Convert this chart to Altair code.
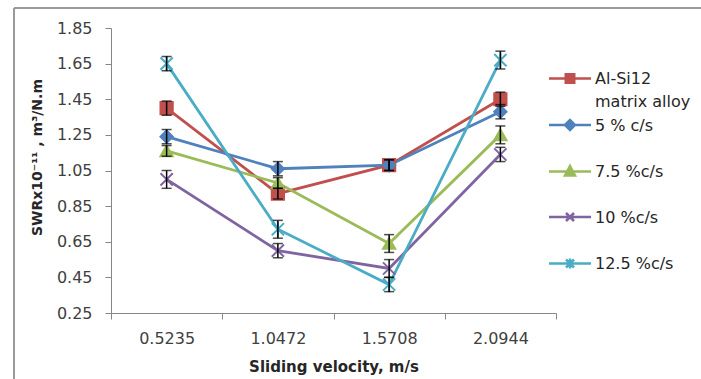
import altair as alt
import pandas as pd

# ---- data ----
velocity = ["0.5235", "1.0472", "1.5708", "2.0944"]
series = ["Al-Si12 matrix alloy", "5 % c/s", "7.5 %c/s", "10 %c/s", "12.5 %c/s"]
alsi12 = [1.40, 0.92, 1.08, 1.45]
cs5 = [1.24, 1.06, 1.08, 1.38]
cs75 = [1.16, 0.98, 0.64, 1.25]
cs10 = [1.00, 0.60, 0.50, 1.14]
cs125 = [1.65, 0.72, 0.41, 1.67]
err_alsi12 = [0.04, 0.03, 0.03, 0.04]
err_cs5 = [0.04, 0.04, 0.03, 0.04]
err_cs75 = [0.03, 0.03, 0.05, 0.05]
err_cs10 = [0.05, 0.04, 0.05, 0.04]
err_cs125 = [0.04, 0.05, 0.04, 0.05]
y_ticks = [0.25, 0.45, 0.65, 0.85, 1.05, 1.25, 1.45, 1.65, 1.85]

colors = ["#C0504D", "#4F81BD", "#9BBB59", "#8064A2", "#4BACC6"]
X_PATH = "M-1,-1L1,1M1,-1L-1,1"
AST_PATH = "M-1,-1L1,1M1,-1L-1,1M0,-1.25L0,1.25"
shapes = ["square", "diamond", "triangle-up", X_PATH, AST_PATH]
# legend symbols: line segment + marker, raised so they sit on the text's first line
legend_shapes = [
    "M-4.2,-1.1L4.2,-1.1M-0.85,-1.95L0.85,-1.95L0.85,-0.25L-0.85,-0.25Z",
    "M-4.2,-1.1L4.2,-1.1M-1,-1.1L0,-2.1L1,-1.1L0,-0.1Z",
    "M-4.2,-1.1L4.2,-1.1M0,-2.2L1,-0.3L-1,-0.3Z",
    "M-4.2,-1.1L4.2,-1.1M-0.8,-1.9L0.8,-0.3M0.8,-1.9L-0.8,-0.3",
    "M-4.2,-1.1L4.2,-1.1M-0.8,-1.9L0.8,-0.3M0.8,-1.9L-0.8,-0.3M0,-2.1L0,-0.1",
]

vals = [alsi12, cs5, cs75, cs10, cs125]
errs = [err_alsi12, err_cs5, err_cs75, err_cs10, err_cs125]
rows = []
for s, v, e in zip(series, vals, errs):
    for x, yv, ev in zip(velocity, v, e):
        rows.append({"series": s, "velocity": x, "value": yv,
                     "lo": yv - ev, "hi": yv + ev})
df = pd.DataFrame(rows)

FONT = "DejaVu Sans"

legend = alt.Legend(
    title=None,
    orient="none",
    legendX=451,
    legendY=48,
    padding=0,
    rowPadding=4.5,
    symbolSize=100,
    symbolStrokeWidth=2.5,
    symbolOpacity=1,
    labelOffset=17,
    labelFont=FONT,
    labelFontSize=16,
    labelColor="#262626",
    labelBaseline="alphabetic",
    labelLimit=200,
    labelExpr="datum.label == 'Al-Si12 matrix alloy' ? ['Al-Si12', 'matrix alloy'] : [datum.label, '']",
)

x_enc = alt.X(
    "velocity:N", sort=velocity,
    scale=alt.Scale(type="band", paddingInner=0, paddingOuter=0),
    axis=alt.Axis(title="Sliding velocity, m/s", labelAngle=0, tickBand="extent",
                  tickSize=6, labelPadding=11, titlePadding=13, labelOverlap=False),
)
y_axis = alt.Axis(title="SWRx10⁻¹¹ , m³/N.m", values=y_ticks, tickCount=len(y_ticks),
                  format=".2f", grid=False, tickSize=6, labelPadding=13, titlePadding=12,
                  titleY=129, titleFontSize=14, labelOverlap=False)
y_scale = alt.Scale(domain=[0.25, 1.85], nice=False, zero=False)
y_enc = alt.Y("value:Q", scale=y_scale, axis=y_axis)

base = alt.Chart(df)

series_layers = []
for s, c, sh in zip(series, colors, shapes):
    sub = base.transform_filter(alt.datum.series == s)
    series_layers.append(sub.mark_line(strokeWidth=2.8, color=c).encode(x=x_enc, y=y_enc))
for s, c, sh in zip(series, colors, shapes):
    sub = base.transform_filter(alt.datum.series == s)
    series_layers.append(
        sub.mark_point(shape=sh, filled=True, fill=c, stroke=c, strokeWidth=2,
                       size=150, opacity=1).encode(x=x_enc, y=y_enc)
    )

# empty layer that only carries the legend (line + marker symbols)
legend_layer = base.transform_filter("false").mark_point(
    filled=True, strokeWidth=2.5, size=100, opacity=1
).encode(
    x=x_enc, y=y_enc,
    color=alt.Color("series:N", scale=alt.Scale(domain=series, range=colors), legend=legend),
    stroke=alt.Stroke("series:N", scale=alt.Scale(domain=series, range=colors), legend=legend),
    shape=alt.Shape("series:N", scale=alt.Scale(domain=series, range=legend_shapes), legend=legend),
)

err_rule = base.mark_rule(color="black", strokeWidth=1.5).encode(
    x=x_enc, y=alt.Y("lo:Q", scale=y_scale, axis=y_axis), y2="hi:Q",
)
cap_lo = base.mark_tick(color="black", thickness=1.5, size=10).encode(
    x=x_enc, y=alt.Y("lo:Q", scale=y_scale, axis=y_axis),
)
cap_hi = base.mark_tick(color="black", thickness=1.5, size=10).encode(
    x=x_enc, y=alt.Y("hi:Q", scale=y_scale, axis=y_axis),
)

frame_top = alt.Chart(pd.DataFrame({"k": [0]})).mark_rule(color="#9a9a9a", strokeWidth=2).encode(
    x=alt.value(-97), x2=alt.value(600), y=alt.value(-20)
)
frame_left = alt.Chart(pd.DataFrame({"k": [0]})).mark_rule(color="#9a9a9a", strokeWidth=2).encode(
    x=alt.value(-97), y=alt.value(-20), y2=alt.value(360)
)

chart = alt.layer(*series_layers, legend_layer, err_rule, cap_lo, cap_hi,
                  frame_top, frame_left).properties(
    width=445, height=285,
    autosize=alt.AutoSizeParams(type="none"),
    padding={"left": 111, "top": 28, "right": 145, "bottom": 66},
    background="white",
).configure(
    style={"guide-label": {"lineHeight": 23}}
).configure_view(stroke=None).configure_axis(
    domainColor="#868686", tickColor="#868686", domainWidth=1, tickWidth=1,
    labelFont=FONT, labelFontSize=16, labelColor="#404040",
    titleFont=FONT, titleFontSize=15, titleFontWeight="bold", titleColor="#262626",
)

chart.save("out.html", embed_options={"renderer": "svg", "actions": False})
